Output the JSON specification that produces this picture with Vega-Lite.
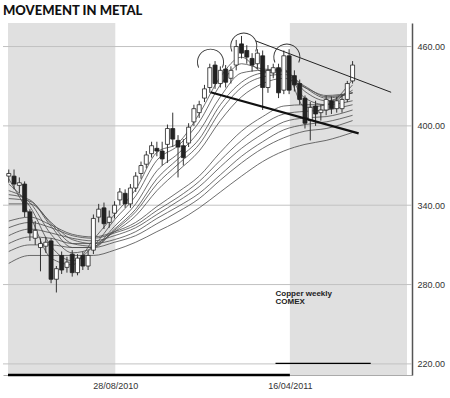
{
  "$schema": "https://vega.github.io/schema/vega-lite/v6.json",
  "width": 409,
  "height": 352,
  "autosize": "none",
  "padding": {"left": 3, "top": 23, "right": 38, "bottom": 23},
  "background": "white",
  "title": {"text": "MOVEMENT IN METAL", "anchor": "start", "frame": "group", "font": "Lato", "fontSize": 13, "fontWeight": 900, "color": "#111", "offset": 5},
  "config": {"view": {"stroke": null}},
  "datasets": {
    "candles": [
      {"d":"2010-04-09","o":362,"c":364,"h":367,"l":357},
      {"d":"2010-04-16","o":362,"c":356,"h":367,"l":352},
      {"d":"2010-04-23","o":355,"c":357,"h":361,"l":349},
      {"d":"2010-04-30","o":356,"c":335,"h":358,"l":331},
      {"d":"2010-05-07","o":335,"c":319,"h":337,"l":313},
      {"d":"2010-05-14","o":315,"c":321,"h":328,"l":310},
      {"d":"2010-05-21","o":308,"c":311,"h":315,"l":290},
      {"d":"2010-05-28","o":309,"c":312,"h":316,"l":304},
      {"d":"2010-06-04","o":313,"c":284,"h":315,"l":281},
      {"d":"2010-06-11","o":284,"c":292,"h":294,"l":274},
      {"d":"2010-06-18","o":302,"c":291,"h":305,"l":288},
      {"d":"2010-06-25","o":293,"c":297,"h":301,"l":289},
      {"d":"2010-07-02","o":303,"c":289,"h":306,"l":286},
      {"d":"2010-07-09","o":289,"c":300,"h":303,"l":287},
      {"d":"2010-07-16","o":302,"c":294,"h":305,"l":291},
      {"d":"2010-07-23","o":294,"c":302,"h":306,"l":291},
      {"d":"2010-07-30","o":306,"c":330,"h":333,"l":303},
      {"d":"2010-08-06","o":331,"c":337,"h":341,"l":327},
      {"d":"2010-08-13","o":338,"c":326,"h":342,"l":322},
      {"d":"2010-08-20","o":327,"c":331,"h":336,"l":323},
      {"d":"2010-08-27","o":334,"c":340,"h":343,"l":330},
      {"d":"2010-09-03","o":344,"c":350,"h":353,"l":340},
      {"d":"2010-09-10","o":349,"c":341,"h":352,"l":338},
      {"d":"2010-09-17","o":341,"c":353,"h":356,"l":338},
      {"d":"2010-09-24","o":353,"c":362,"h":365,"l":350},
      {"d":"2010-10-01","o":364,"c":370,"h":373,"l":360},
      {"d":"2010-10-08","o":371,"c":378,"h":381,"l":368},
      {"d":"2010-10-15","o":379,"c":385,"h":388,"l":376},
      {"d":"2010-10-22","o":383,"c":381,"h":388,"l":377},
      {"d":"2010-10-29","o":381,"c":375,"h":388,"l":370},
      {"d":"2010-11-05","o":386,"c":398,"h":401,"l":372},
      {"d":"2010-11-12","o":398,"c":390,"h":410,"l":384},
      {"d":"2010-11-19","o":389,"c":384,"h":393,"l":361},
      {"d":"2010-11-26","o":385,"c":376,"h":390,"l":370},
      {"d":"2010-12-03","o":387,"c":399,"h":402,"l":384},
      {"d":"2010-12-10","o":403,"c":413,"h":416,"l":400},
      {"d":"2010-12-17","o":410,"c":416,"h":419,"l":406},
      {"d":"2010-12-24","o":421,"c":428,"h":431,"l":418},
      {"d":"2010-12-31","o":429,"c":444,"h":447,"l":425},
      {"d":"2011-01-07","o":446,"c":432,"h":449,"l":428},
      {"d":"2011-01-14","o":432,"c":442,"h":445,"l":429},
      {"d":"2011-01-21","o":443,"c":433,"h":446,"l":429},
      {"d":"2011-01-28","o":436,"c":442,"h":445,"l":432},
      {"d":"2011-02-04","o":446,"c":460,"h":465,"l":442},
      {"d":"2011-02-11","o":462,"c":455,"h":468,"l":451},
      {"d":"2011-02-18","o":457,"c":452,"h":461,"l":447},
      {"d":"2011-02-25","o":451,"c":446,"h":455,"l":441},
      {"d":"2011-03-04","o":447,"c":455,"h":458,"l":443},
      {"d":"2011-03-11","o":453,"c":429,"h":457,"l":412},
      {"d":"2011-03-18","o":429,"c":442,"h":446,"l":425},
      {"d":"2011-03-25","o":440,"c":444,"h":447,"l":436},
      {"d":"2011-04-01","o":444,"c":425,"h":447,"l":421},
      {"d":"2011-04-08","o":427,"c":453,"h":457,"l":424},
      {"d":"2011-04-15","o":453,"c":427,"h":458,"l":424},
      {"d":"2011-04-22","o":438,"c":431,"h":442,"l":426},
      {"d":"2011-04-29","o":432,"c":420,"h":435,"l":416},
      {"d":"2011-05-06","o":421,"c":402,"h":423,"l":398},
      {"d":"2011-05-13","o":404,"c":414,"h":418,"l":389},
      {"d":"2011-05-20","o":415,"c":409,"h":419,"l":400},
      {"d":"2011-05-27","o":410,"c":412,"h":416,"l":404},
      {"d":"2011-06-03","o":412,"c":420,"h":423,"l":408},
      {"d":"2011-06-10","o":419,"c":413,"h":422,"l":409},
      {"d":"2011-06-17","o":413,"c":419,"h":422,"l":410},
      {"d":"2011-06-24","o":413,"c":420,"h":424,"l":410},
      {"d":"2011-07-01","o":420,"c":432,"h":434,"l":418},
      {"d":"2011-07-08","o":434,"c":446,"h":449,"l":432}
    ],
    "ema": [
      {"d":"2010-04-09","e3":360,"e5":356,"e8":351,"e10":348,"e12":345,"e15":341,"e30":328,"e35":323,"e40":317,"e45":311,"e50":305,"e60":296},
      {"d":"2010-05-07","e3":332,"e5":339,"e8":342,"e10":344,"e12":343,"e15":341,"e30":331,"e35":327,"e40":322,"e45":316,"e50":310,"e60":302},
      {"d":"2010-06-04","e3":300,"e5":309,"e8":318,"e10":324,"e12":326,"e15":327,"e30":325,"e35":323,"e40":319,"e45":315,"e50":310,"e60":302},
      {"d":"2010-07-02","e3":295,"e5":298,"e8":304,"e10":308,"e12":311,"e15":314,"e30":318,"e35":317,"e40":315,"e45":311,"e50":308,"e60":302},
      {"d":"2010-07-30","e3":314,"e5":309,"e8":308,"e10":308,"e12":309,"e15":311,"e30":316,"e35":315,"e40":313,"e45":311,"e50":308,"e60":302},
      {"d":"2010-08-27","e3":333,"e5":329,"e8":324,"e10":322,"e12":321,"e15":320,"e30":320,"e35":319,"e40":317,"e45":314,"e50":312,"e60":306},
      {"d":"2010-09-24","e3":352,"e5":347,"e8":341,"e10":337,"e12":335,"e15":332,"e30":327,"e35":325,"e40":323,"e45":320,"e50":317,"e60":312},
      {"d":"2010-10-22","e3":380,"e5":374,"e8":366,"e10":360,"e12":356,"e15":351,"e30":339,"e35":336,"e40":333,"e45":330,"e50":326,"e60":320},
      {"d":"2010-11-19","e3":387,"e5":385,"e8":379,"e10":375,"e12":371,"e15":366,"e30":350,"e35":346,"e40":343,"e45":339,"e50":335,"e60":328},
      {"d":"2010-12-17","e3":409,"e5":403,"e8":396,"e10":390,"e12":386,"e15":381,"e30":362,"e35":358,"e40":354,"e45":349,"e50":345,"e60":338},
      {"d":"2011-01-14","e3":437,"e5":431,"e8":422,"e10":416,"e12":411,"e15":404,"e30":380,"e35":374,"e40":369,"e45":363,"e50":359,"e60":350},
      {"d":"2011-02-11","e3":452,"e5":447,"e8":440,"e10":433,"e12":429,"e15":422,"e30":396,"e35":389,"e40":383,"e45":377,"e50":372,"e60":362},
      {"d":"2011-03-11","e3":441,"e5":443,"e8":442,"e10":440,"e12":437,"e15":432,"e30":407,"e35":401,"e40":394,"e45":388,"e50":383,"e60":373},
      {"d":"2011-04-08","e3":443,"e5":442,"e8":442,"e10":441,"e12":439,"e15":436,"e30":415,"e35":409,"e40":403,"e45":397,"e50":391,"e60":381},
      {"d":"2011-05-06","e3":414,"e5":421,"e8":426,"e10":429,"e12":430,"e15":429,"e30":416,"e35":411,"e40":406,"e45":401,"e50":396,"e60":386},
      {"d":"2011-06-03","e3":416,"e5":416,"e8":419,"e10":421,"e12":422,"e15":423,"e30":416,"e35":412,"e40":407,"e45":403,"e50":398,"e60":389},
      {"d":"2011-07-08","e3":435,"e5":431,"e8":427,"e10":425,"e12":425,"e15":425,"e30":419,"e35":416,"e40":412,"e45":408,"e50":404,"e60":395}
    ]
  },
  "layer": [
    {
      "data": {"values": [{"s":"2010-04-08","e":"2010-08-28"},{"s":"2011-04-16","e":"2011-09-18"}]},
      "mark": {"type": "rect", "color": "#e0e0e0"},
      "encoding": {
        "x": {"field": "s", "type": "temporal",
          "scale": {"type": "utc", "domain": [{"year":2010,"month":4,"date":8,"utc":true},{"year":2011,"month":9,"date":18,"utc":true}]},
          "axis": {"title": null, "values": [{"year":2010,"month":8,"date":28,"utc":true},{"year":2011,"month":4,"date":16,"utc":true}], "labelExpr": "utcFormat(datum.value, '%d/%m/%Y')", "grid": false, "ticks": false, "domainColor": "#aaa", "domainWidth": 1, "labelFont": "Liberation Sans", "labelFontSize": 9, "labelColor": "#333", "labelPadding": 6}},
        "x2": {"field": "e"}
      }
    },
    {
      "data": {"values": [{"g":220},{"g":280},{"g":340},{"g":400},{"g":460}]},
      "mark": {"type": "rule", "color": "#c2c2c2", "strokeWidth": 1},
      "encoding": {
        "y": {"field": "g", "type": "quantitative",
          "scale": {"domain": [211.6, 477.8], "nice": false, "zero": false},
          "axis": {"orient": "right", "title": null, "values": [220,280,340,400,460], "format": ".2f", "grid": false, "ticks": false, "domainColor": "#555", "domainWidth": 1.5, "labelFont": "Liberation Sans", "labelFontSize": 9, "labelColor": "#333", "labelPadding": 5}}
      }
    },
    {
      "data": {"name": "ema"},
      "transform": [{"fold": ["e3","e5","e8","e10","e12","e15","e30","e35","e40","e45","e50","e60"], "as": ["k","v"]}],
      "mark": {"type": "line", "color": "#4a4a4a", "strokeWidth": 0.8, "interpolate": "monotone"},
      "encoding": {
        "x": {"field": "d", "type": "temporal"},
        "y": {"field": "v", "type": "quantitative"},
        "detail": {"field": "k", "type": "nominal"}
      }
    },
    {
      "data": {"name": "candles"},
      "mark": {"type": "rule", "color": "#333", "strokeWidth": 1},
      "encoding": {
        "x": {"field": "d", "type": "temporal"},
        "y": {"field": "l", "type": "quantitative"},
        "y2": {"field": "h"}
      }
    },
    {
      "data": {"name": "candles"},
      "mark": {"type": "bar", "size": 4, "stroke": "#222", "strokeWidth": 0.8},
      "encoding": {
        "x": {"field": "d", "type": "temporal"},
        "y": {"field": "o", "type": "quantitative"},
        "y2": {"field": "c"},
        "fill": {"condition": {"test": "datum.c >= datum.o", "value": "#ffffff"}, "value": "#222222"}
      }
    },
    {
      "data": {"values": [{"a":"2011-01-01","b":"2011-07-16","pa":425.4,"pb":394.3}]},
      "mark": {"type": "rule", "color": "#111", "strokeWidth": 2.2},
      "encoding": {
        "x": {"field": "a", "type": "temporal"},
        "x2": {"field": "b"},
        "y": {"field": "pa", "type": "quantitative"},
        "y2": {"field": "pb"}
      }
    },
    {
      "data": {"values": [{"a":"2011-03-02","b":"2011-08-28","pa":464.2,"pb":425.4}]},
      "mark": {"type": "rule", "color": "#222", "strokeWidth": 1},
      "encoding": {
        "x": {"field": "a", "type": "temporal"},
        "x2": {"field": "b"},
        "y": {"field": "pa", "type": "quantitative"},
        "y2": {"field": "pb"}
      }
    },
    {
      "data": {"values": [{"d":"2011-01-01","p":448.2},{"d":"2011-02-14","p":460.4},{"d":"2011-04-12","p":452}]},
      "mark": {"type": "arc", "innerRadius": 12.6, "outerRadius": 13.5, "theta": -2.0, "theta2": 2.0, "fill": "#333"},
      "encoding": {
        "x": {"field": "d", "type": "temporal"},
        "y": {"field": "p", "type": "quantitative"}
      }
    },
    {
      "data": {"values": [{"a":"2010-04-08","b":"2011-04-16"}]},
      "mark": {"type": "rule", "color": "#000", "strokeWidth": 2.5},
      "encoding": {
        "x": {"field": "a", "type": "temporal"},
        "x2": {"field": "b"},
        "y": {"datum": 211.6}
      }
    },
    {
      "data": {"values": [{"a":"2011-03-28","b":"2011-08-01"}]},
      "mark": {"type": "rule", "color": "#000", "strokeWidth": 1.2},
      "encoding": {
        "x": {"field": "a", "type": "temporal"},
        "x2": {"field": "b"},
        "y": {"datum": 220.4}
      }
    },
    {
      "data": {"values": [{"d":"2011-03-28","p":271.3,"t":"Copper weekly"},{"d":"2011-03-28","p":265.0,"t":"COMEX"}]},
      "mark": {"type": "text", "align": "left", "baseline": "alphabetic", "font": "Liberation Sans", "fontSize": 8, "fontWeight": "bold", "color": "#222"},
      "encoding": {
        "x": {"field": "d", "type": "temporal"},
        "y": {"field": "p", "type": "quantitative"},
        "text": {"field": "t"}
      }
    }
  ]
}
